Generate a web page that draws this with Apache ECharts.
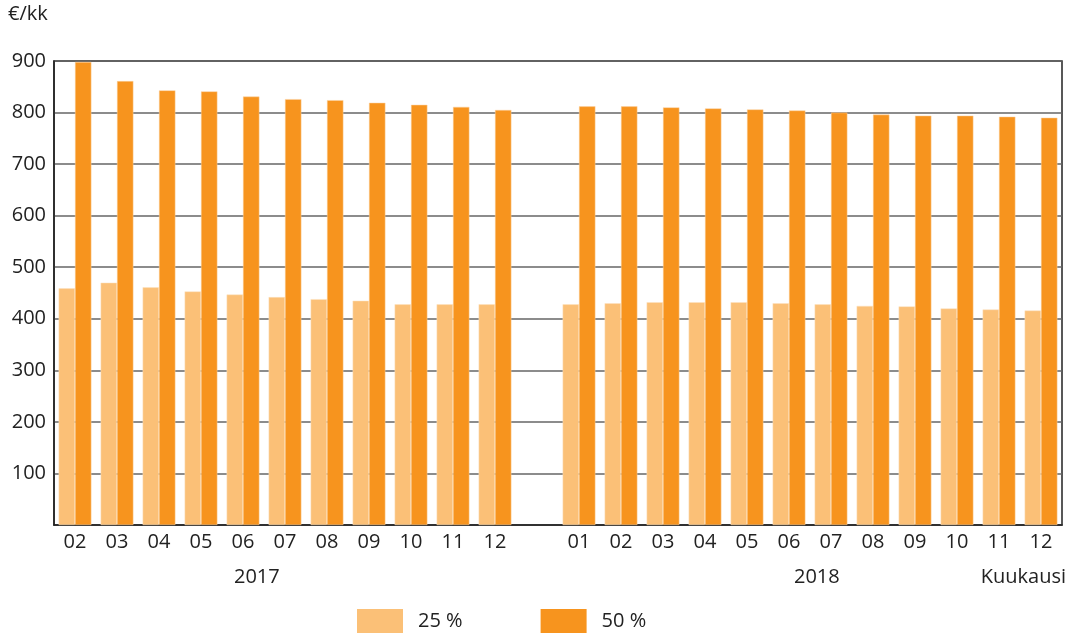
<!DOCTYPE html>
<html>
<head>
<meta charset="utf-8">
<script src="https://cdn.jsdelivr.net/npm/echarts@6/dist/echarts.min.js"></script>
<style>
html,body{margin:0;padding:0;background:#fff;}
#chart{width:1070px;height:633px;}
</style>
</head>
<body>
<div id="chart"></div>
<script>
// Categories: months (2017: 02-12, gap, 2018: 01-12)
const months = ['02','03','04','05','06','07','08','09','10','11','12','', '01','02','03','04','05','06','07','08','09','10','11','12'];
const seriesNames = ['25 %', '50 %'];
const values25 = [459, 470, 461, 453, 447, 442, 438, 435, 428, 428, 428, null,
                  428, 430, 432, 432, 432, 430, 428, 425, 424, 420, 418, 416];
const values50 = [898, 861, 843, 841, 831, 826, 824, 819, 815, 811, 805, null,
                  812, 812, 810, 808, 806, 804, 800, 796, 794, 794, 792, 790];
const yTicks = [0, 100, 200, 300, 400, 500, 600, 700, 800, 900];
const yearLabels = ['2017', '2018'];
const unitLabel = '€/kk';
const axisName = 'Kuukausi';

const FONT = '"Open Sans", "Noto Sans", sans-serif';
const FS = 20;
const chart = echarts.init(document.getElementById('chart'));
chart.setOption({
  animation: false,
  backgroundColor: '#fff',
  textStyle: { fontFamily: FONT },
  grid: { left: 54, right: 8, top: 61, bottom: 108, show: true, borderColor: '#222', borderWidth: 1.5, containLabel: false },
  legend: {
    top: 604, left: 352,
    itemWidth: 46, itemHeight: 24, itemGap: 78,
    icon: 'rect',
    itemStyle: { borderWidth: 0 },
    textStyle: { fontSize: FS, color: '#222', fontFamily: FONT, padding: [0, 0, 0, 10] },
    data: seriesNames
  },
  xAxis: {
    type: 'category',
    data: months,
    axisLine: { show: true, lineStyle: { color: '#222', width: 1.5 } },
    axisTick: { show: false },
    axisLabel: { fontSize: FS, color: '#222', margin: 7, interval: 0, fontFamily: FONT }
  },
  yAxis: {
    type: 'value',
    min: yTicks[0], max: yTicks[yTicks.length - 1], interval: 100,
    axisLine: { show: true, lineStyle: { color: '#222', width: 1.5 } },
    axisTick: { show: false },
    axisLabel: { fontSize: FS, color: '#222', margin: 8, fontFamily: FONT,
      formatter: v => v === 0 ? '' : String(v) },
    splitLine: { show: true, lineStyle: { color: '#666', width: 1.5 } }
  },
  graphic: [
    { type: 'text', left: 8, top: 4, style: { text: unitLabel, fontSize: FS, fill: '#222', fontFamily: FONT } },
    { type: 'text', left: 234, top: 567, style: { text: yearLabels[0], fontSize: FS, fill: '#222', fontFamily: FONT } },
    { type: 'text', left: 794, top: 567, style: { text: yearLabels[1], fontSize: FS, fill: '#222', fontFamily: FONT } },
    { type: 'text', right: 4, top: 567, style: { text: axisName, fontSize: FS, fill: '#222', fontFamily: FONT } }
  ],
  series: [
    { name: seriesNames[0], type: 'bar', data: values25, barGap: '0%', barCategoryGap: '22%',
      itemStyle: { color: '#FBC077', borderColor: '#FDE3C3', borderWidth: 0.5 } },
    { name: seriesNames[1], type: 'bar', data: values50,
      itemStyle: { color: '#F7941E', borderColor: '#FBD3A5', borderWidth: 0.5 } }
  ]
});
</script>
</body>
</html>
